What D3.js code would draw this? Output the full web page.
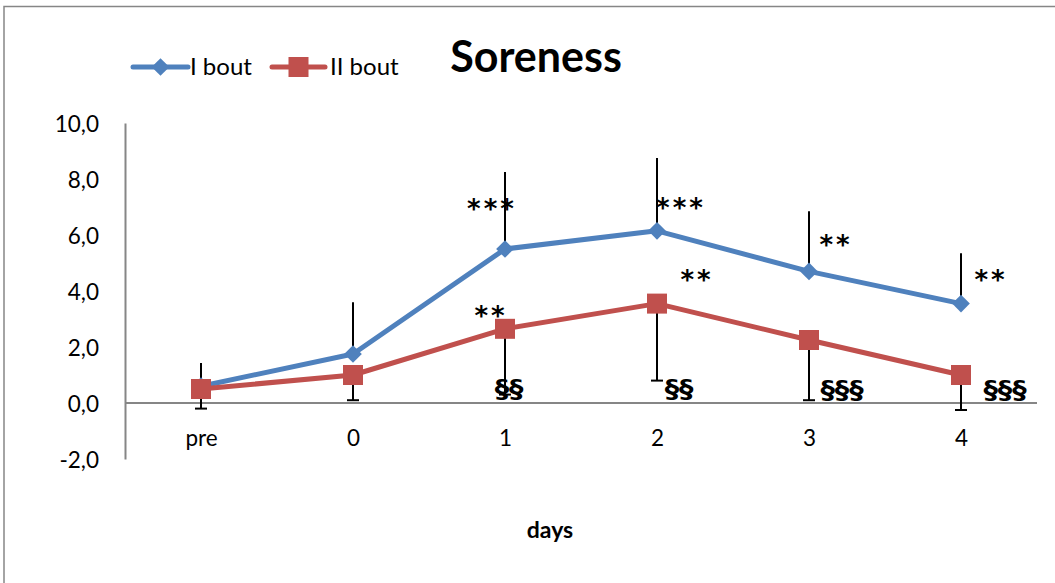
<!DOCTYPE html>
<html>
<head>
<meta charset="utf-8">
<script src="https://cdn.jsdelivr.net/npm/d3@7"></script>
<style>
  html, body { margin: 0; padding: 0; background: #fff; }
  svg { display: block; font-family: Lato, "Open Sans", sans-serif; }
</style>
</head>
<body>
<svg id="chart" width="1055" height="583"></svg>
<script>
// Soreness score over time, two exercise bouts (mean with one-sided SD bars)
const days = ["pre", "0", "1", "2", "3", "4"];
const boutOne = [0.6, 1.75, 5.5, 6.15, 4.7, 3.55];
const boutOneSD = [0.83, 1.85, 2.75, 2.6, 2.15, 1.8];
const boutTwo = [0.5, 1.0, 2.65, 3.55, 2.25, 1.0];
const boutTwoSD = [0.7, 0.9, 2.35, 2.75, 2.15, 1.25];
const yTicks = [-2, 0, 2, 4, 6, 8, 10];
const seriesNames = ["I bout", "II bout"];

// significance marks: category, text, vertical level (value units), horizontal shift (px)
const marks = [
  { day: "1", text: "***", level: 7.1, shift: -13 },
  { day: "1", text: "**",  level: 3.27, shift: -14 },
  { day: "1", text: "§§",  level: 0.52, shift: 4 },
  { day: "2", text: "***", level: 7.13, shift: 24 },
  { day: "2", text: "**",  level: 4.56, shift: 40 },
  { day: "2", text: "§§",  level: 0.52, shift: 22 },
  { day: "3", text: "**",  level: 5.81, shift: 27 },
  { day: "3", text: "§§§", level: 0.47, shift: 33 },
  { day: "4", text: "**",  level: 4.56, shift: 30 },
  { day: "4", text: "§§§", level: 0.47, shift: 44 }
];

const blue = "#4F81BD";
const red = "#C0504D";
const axisGrey = "#868686";

const svg = d3.select("#chart");

// outer chart frame
svg.append("rect")
  .attr("x", 4).attr("y", 6.5)
  .attr("width", 1100).attr("height", 640)
  .attr("fill", "none").attr("stroke", axisGrey).attr("stroke-width", 1.5);

const x = d3.scalePoint().domain(days).range([125, 1037]).padding(0.5);
const y = d3.scaleLinear().domain([-2, 10]).range([459, 123]);

const commaFmt = d3.formatLocale({ decimal: ",", thousands: ".", grouping: [3], currency: ["", ""], minus: "-" }).format(".1f");

// y axis
const yAxis = svg.append("g").attr("transform", "translate(125,0)")
  .call(d3.axisLeft(y).tickValues(yTicks).tickSize(0).tickPadding(26).tickFormat(d => commaFmt(d)));
yAxis.select(".domain").attr("stroke", axisGrey).attr("stroke-width", 2);
yAxis.selectAll("text").style("font-size", "22.5px").style("font-family", "Lato").attr("dy", "0.36em").attr("fill", "#000");

// x axis sitting on zero
const xAxis = svg.append("g").attr("transform", `translate(0,${y(0)})`)
  .call(d3.axisBottom(x).tickSize(0).tickPadding(27));
xAxis.select(".domain").attr("stroke", axisGrey).attr("stroke-width", 2)
  .attr("d", `M125,0H1037`);
xAxis.selectAll("text").style("font-size", "22.5px").style("font-family", "Lato").attr("fill", "#000");

svg.append("text").attr("x", 550).attr("y", 538)
  .attr("text-anchor", "middle").style("font-weight", "bold").style("font-size", "23px")
  .text("days");

const line = d3.line().x((d, i) => x(days[i])).y(d => y(d));

svg.append("path").datum(boutOne).attr("d", line)
  .attr("fill", "none").attr("stroke", blue).attr("stroke-width", 5).attr("stroke-linejoin", "round");
svg.append("path").datum(boutTwo).attr("d", line)
  .attr("fill", "none").attr("stroke", red).attr("stroke-width", 5).attr("stroke-linejoin", "round");

// error bars: upward for bout I, downward with a cap for bout II
const eb = svg.append("g").attr("stroke", "#000").attr("stroke-width", 2);
boutOne.forEach((v, i) => {
  eb.append("line").attr("x1", x(days[i])).attr("x2", x(days[i]))
    .attr("y1", y(v)).attr("y2", y(v + boutOneSD[i]));
});
boutTwo.forEach((v, i) => {
  const cx = x(days[i]);
  eb.append("line").attr("x1", cx).attr("x2", cx)
    .attr("y1", y(v)).attr("y2", y(v - boutTwoSD[i]));
  eb.append("line").attr("x1", cx - 6).attr("x2", cx + 6)
    .attr("y1", y(v - boutTwoSD[i])).attr("y2", y(v - boutTwoSD[i]));
});

const diamond = d3.symbol().type(d3.symbolDiamond2).size(200);
svg.append("g").selectAll("path").data(boutOne).join("path")
  .attr("d", diamond)
  .attr("transform", (d, i) => `translate(${x(days[i])},${y(d)})`)
  .attr("fill", blue);
svg.append("g").selectAll("rect").data(boutTwo).join("rect")
  .attr("x", (d, i) => x(days[i]) - 10).attr("y", d => y(d) - 10)
  .attr("width", 20).attr("height", 20).attr("fill", red);

// significance labels; the section signs are drawn slightly widened
const isSect = d => d.text.startsWith("§");
svg.append("g").selectAll("text").data(marks).join("text")
  .attr("transform", d => `translate(${x(d.day) + d.shift},${y(d.level)}) scale(${isSect(d) ? 1.15 : 1},1)`)
  .attr("text-anchor", "middle")
  .style("font-family", "'DejaVu Sans'")
  .style("font-size", d => isSect(d) ? "25px" : "26px")
  .style("font-weight", "bold")
  .attr("dy", d => isSect(d) ? "0.33em" : "0.54em")
  .attr("letter-spacing", d => isSect(d) ? 0 : 3)
  .text(d => d.text);

// legend
const legend = svg.append("g");
const legendItems = [
  { name: seriesNames[0], color: blue, x0: 133, x1: 188, tx: 190, shape: "diamond" },
  { name: seriesNames[1], color: red, x0: 272, x1: 325, tx: 330, shape: "square" }
];
legendItems.forEach(it => {
  legend.append("line").attr("x1", it.x0).attr("x2", it.x1).attr("y1", 67).attr("y2", 67)
    .attr("stroke", it.color).attr("stroke-width", 5).attr("stroke-linecap", "round");
  const cx = (it.x0 + it.x1) / 2;
  if (it.shape === "diamond") {
    legend.append("path").attr("d", diamond).attr("transform", `translate(${cx},67)`).attr("fill", it.color);
  } else {
    legend.append("rect").attr("x", cx - 10).attr("y", 57).attr("width", 20).attr("height", 20).attr("fill", it.color);
  }
  legend.append("text").attr("x", it.tx).attr("y", 75).style("font-size", "24px").text(it.name);
});

svg.append("text").attr("x", 536).attr("y", 72)
  .attr("text-anchor", "middle").style("font-weight", "bold").style("font-size", "43px")
  .text("Soreness");
</script>
</body>
</html>
